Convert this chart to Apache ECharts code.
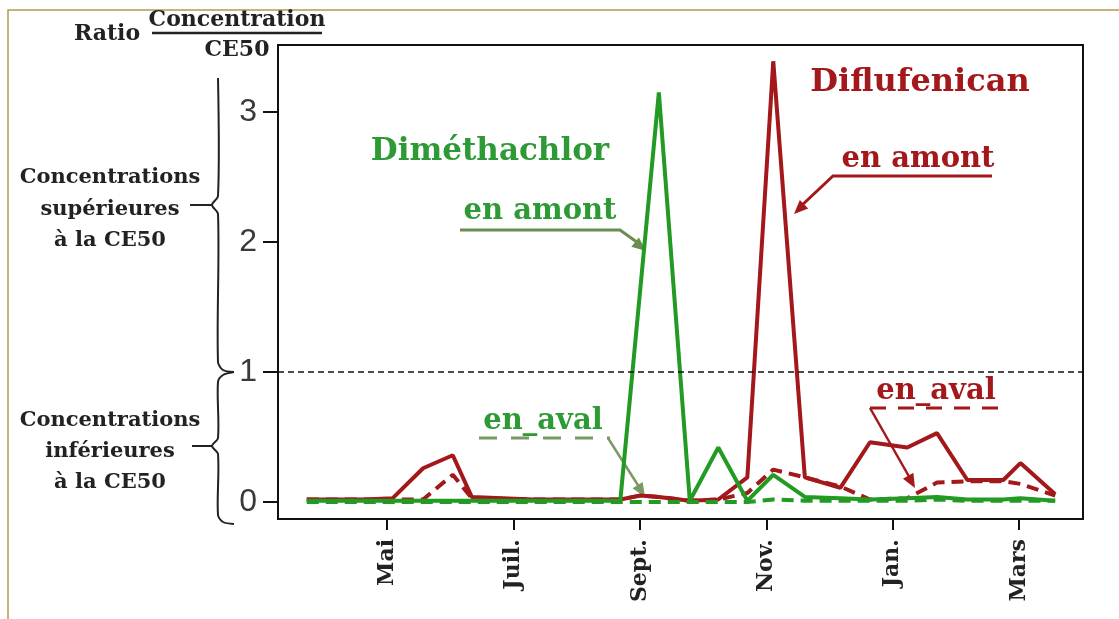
<!DOCTYPE html>
<html>
<head>
<meta charset="utf-8">
<script src="https://cdn.jsdelivr.net/npm/echarts@6/dist/echarts.min.js"></script>
<style>
  html, body { margin: 0; padding: 0; background: #fff; }
  #main { width: 1119px; height: 619px; }
</style>
</head>
<body>
<div id="main"></div>
<script>
// sampling dates, in months (5 = 1st of May, 13 = 1st of January of next year)
var sampleMonths = [3.73, 4.65, 5.09, 5.57, 6.04, 6.34, 7.31, 8.24, 8.69, 9.00, 9.30, 9.79,
                    10.24, 10.70, 11.11, 11.61, 12.17, 12.64, 13.23, 13.70, 14.18, 14.75, 15.02, 15.57];

// ratio concentration / CE50 (null = no vertex for this series)
var diflufAmont = [0.02, 0.02, 0.03, 0.26, 0.36, 0.04, 0.02, 0.02, 0.02, 0.05, 0.04, 0.01,
                   0.02, 0.19, 3.39, 0.19, 0.11, 0.46, 0.42, 0.53, 0.17, 0.17, 0.30, 0.06];
var diflufAval  = [0.02, 0.02, 0.02, 0.02, 0.21, 0.03, 0.02, 0.02, 0.02, 0.05, 0.04, 0.01,
                   0.02, 0.07, 0.25, 0.19, 0.12, 0.02, 0.03, 0.15, 0.16, 0.16, 0.14, 0.05];
var dimethAmont = [0.01, 0.01, 0.01, 0.01, 0.01, 0.01, 0.01, 0.01, 0.01, null, 3.15, 0.01,
                   0.42, 0.01, 0.21, 0.04, 0.03, 0.02, 0.03, 0.04, 0.02, 0.02, 0.03, 0.01];
var dimethAval  = [0.00, 0.00, 0.00, 0.00, 0.00, 0.00, 0.00, 0.00, 0.00, 0.00, 0.00, 0.00,
                   0.00, 0.00, 0.02, 0.01, 0.01, 0.01, 0.01, 0.02, 0.01, 0.01, 0.01, 0.01];

var monthTicks  = [5, 7, 9, 11, 13, 15];
var monthLabels = ['Mai', 'Juil.', 'Sept.', 'Nov.', 'Jan.', 'Mars'];
var yTicks = [0, 1, 2, 3];

var GREEN = '#239a23', RED = '#a3181b';
var serif = '"DejaVu Serif", serif';

function pairs(vals) {
  var out = [];
  for (var i = 0; i < sampleMonths.length; i++) {
    if (vals[i] != null) out.push([sampleMonths[i], vals[i]]);
  }
  return out;
}

function line(pts, color, w, dash) {
  return { type: 'polyline', shape: { points: pts },
           style: { stroke: color, lineWidth: w, lineDash: dash || null, fill: null } };
}
function curve(pts, color, w) {
  return { type: 'polyline', shape: { points: pts, smooth: 0.3 },
           style: { stroke: color, lineWidth: w, fill: null } };
}
function head(tip, from, color) {
  var dx = tip[0] - from[0], dy = tip[1] - from[1];
  var L = Math.sqrt(dx * dx + dy * dy), ux = dx / L, uy = dy / L;
  var bx = tip[0] - ux * 14, by = tip[1] - uy * 14;
  return { type: 'polygon', shape: { points: [tip, [bx - uy * 6, by + ux * 6], [bx + uy * 6, by - ux * 6]] },
           style: { fill: color } };
}
function txt(s, x, y, size, color, weight) {
  return { type: 'text', style: { text: s, x: x, y: y, fill: color, fontSize: size,
           fontFamily: serif, fontWeight: weight || 'bold', align: 'center', verticalAlign: 'middle' } };
}

var ink = '#222';
var graphics = [
  // outer frame
  line([[8, 619], [8, 10], [1119, 10]], '#b29a52', 1.5),
  // y title
  txt('Ratio', 107, 34, 22, ink),
  txt('Concentration', 237, 20, 22, ink),
  line([[152, 33], [322, 33]], ink, 2.5),
  txt('CE50', 237, 50, 22, ink),
  // left braces
  curve([[218, 78], [218, 196], [212, 205], [218, 214], [218, 362], [223, 370], [234, 372]], ink, 2),
  line([[190, 205], [212, 205]], ink, 2),
  curve([[234, 372], [223, 375], [218, 382], [218, 438], [212, 446], [218, 454], [218, 515], [223, 522], [234, 524]], ink, 2),
  line([[192, 446], [212, 446]], ink, 2),
  txt('Concentrations', 110, 178, 21, ink),
  txt('supérieures', 110, 210, 21, ink),
  txt('à la CE50', 110, 241, 21, ink),
  txt('Concentrations', 110, 421, 21, ink),
  txt('inférieures', 110, 452, 21, ink),
  txt('à la CE50', 110, 483, 21, ink),
  // Diméthachlor annotations
  txt('Diméthachlor', 490, 152, 31, '#2e9a36'),
  txt('en amont', 540, 211, 29, '#2e9a36'),
  line([[460, 230], [620, 230], [641, 245]], '#6a8c50', 3),
  head([646, 251], [620, 230], '#6a8c50'),
  txt('en_aval', 543, 421, 29, '#2e9a36'),
  line([[479, 438], [610, 438]], '#7a9a62', 3, [18, 14]),
  line([[608, 438], [641, 490]], '#7a9a62', 2.5),
  head([645, 497], [608, 438], '#7a9a62'),
  // Diflufenican annotations
  txt('Diflufenican', 920, 83, 32, RED),
  txt('en amont', 918, 159, 29, RED),
  line([[992, 176], [833, 176], [800, 207]], RED, 3),
  head([794, 214], [833, 176], RED),
  txt('en_aval', 936, 391, 29, RED),
  line([[870, 408], [1002, 408]], RED, 3, [16, 12]),
  line([[870, 408], [911, 480]], RED, 2.5),
  head([915, 488], [870, 408], RED)
];

var chart = echarts.init(document.getElementById('main'));
chart.setOption({
  animation: false,
  backgroundColor: '#fff',
  grid: { left: 278, right: 36, top: 45, bottom: 100, show: true, borderColor: '#111', borderWidth: 2 },
  xAxis: {
    type: 'value', min: 3.275, max: 16.01,
    axisLine: { show: true, onZero: false, lineStyle: { color: '#111', width: 2 } },
    axisTick: { show: true, customValues: monthTicks, length: 11, lineStyle: { color: '#111', width: 2 } },
    axisLabel: {
      customValues: monthTicks, rotate: 90, margin: 20,
      fontFamily: serif, fontWeight: 'bold', fontSize: 22, color: ink,
      formatter: function (v) { return monthLabels[monthTicks.indexOf(Math.round(v))]; }
    },
    splitLine: { show: false }
  },
  yAxis: {
    type: 'value', min: -0.13, max: 3.515,
    axisLine: { show: true, onZero: false, lineStyle: { color: '#111', width: 2 } },
    axisTick: { show: true, customValues: yTicks, length: 15, lineStyle: { color: '#111', width: 2 } },
    axisLabel: { customValues: yTicks, margin: 21, fontFamily: '"Liberation Sans", Arial, sans-serif',
                 fontSize: 32, color: '#3a3a3a' },
    splitLine: { show: false }
  },
  series: [
    { name: 'Diflufenican en amont', type: 'line', data: pairs(diflufAmont), symbol: 'none',
      lineStyle: { color: RED, width: 4 },
      markLine: { silent: true, symbol: 'none', label: { show: false },
                  lineStyle: { color: '#111', width: 1.5, type: [6, 4] }, data: [{ yAxis: 1 }] } },
    { name: 'Diflufenican en aval', type: 'line', data: pairs(diflufAval), symbol: 'none',
      lineStyle: { color: RED, width: 4, type: [12, 7] } },
    { name: 'Diméthachlor en aval', type: 'line', data: pairs(dimethAval), symbol: 'none',
      lineStyle: { color: GREEN, width: 4, type: [12, 7] } },
    { name: 'Diméthachlor en amont', type: 'line', data: pairs(dimethAmont), symbol: 'none',
      lineStyle: { color: GREEN, width: 4 } }
  ],
  graphic: graphics
});
</script>
</body>
</html>
